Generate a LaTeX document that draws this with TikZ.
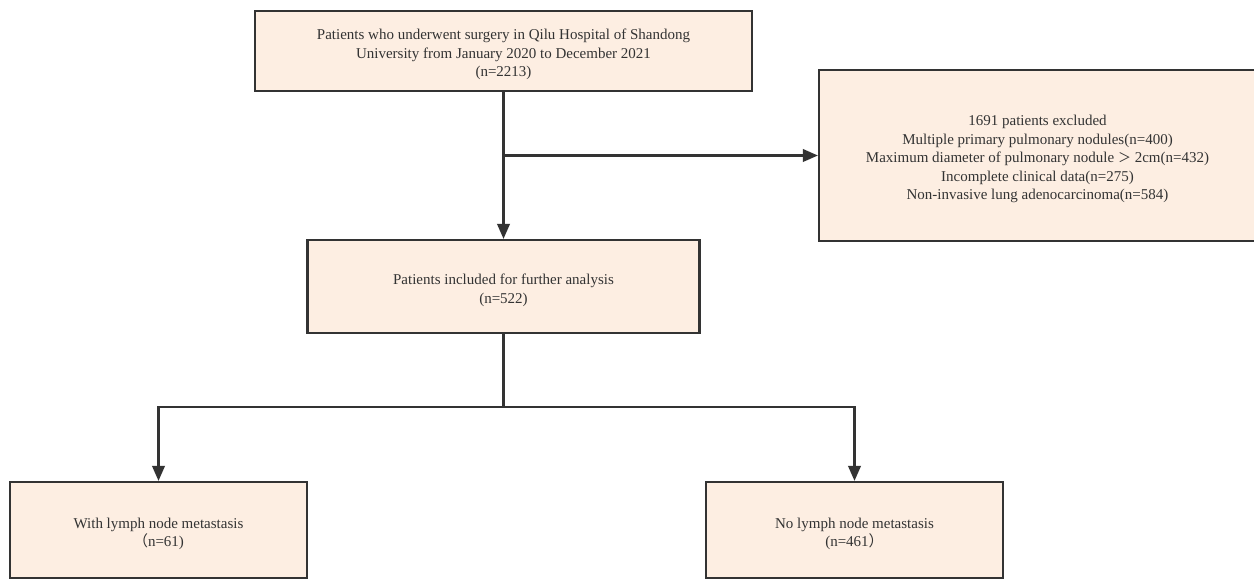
\documentclass[tikz,border=0pt]{standalone}
\usepackage{fontspec}
\setmainfont{Liberation Serif}
\newfontfamily\cjk{Noto Sans CJK SC}
\usetikzlibrary{arrows.meta}
\definecolor{boxfill}{HTML}{FDEEE2}
\definecolor{linecol}{HTML}{333333}
\definecolor{txtcol}{HTML}{333333}
\begin{document}
\begin{tikzpicture}[x=1pt,y=-1pt,
  flowbox/.style={draw=linecol, fill=boxfill, line width=2.2pt, inner sep=0pt,
    text=txtcol, align=center, font=\fontsize{15}{18.5}\selectfont},
  conn/.style={draw=linecol, line width=2.2pt},
  arr/.style={conn, -{Triangle[length=15pt,width=12.5pt]}}]
\useasboundingbox (0,0) rectangle (1254,580);
\fill[white] (0,0) rectangle (1254,580);
\node[flowbox, minimum width=497pt, minimum height=80pt] (top) at (503.5,51)
  {\rule{0pt}{18pt}Patients who underwent surgery in Qilu Hospital of Shandong\\University from January 2020 to December 2021\\(n=2213)};
\node[flowbox, minimum width=437pt, minimum height=171pt] (excl) at (1037.5,155.5)
  {\rule{0pt}{18pt}1691 patients excluded\\Multiple primary pulmonary nodules(n=400)\\Maximum diameter of pulmonary nodule {\cjk\fontsize{13}{18.5}\selectfont ＞} 2cm(n=432)\\Incomplete clinical data(n=275)\\Non-invasive lung adenocarcinoma(n=584)};
\node[flowbox, minimum width=392pt, minimum height=93pt] (mid) at (503.5,286.5)
  {\rule{0pt}{18pt}Patients included for further analysis\\(n=522)};
\node[flowbox, minimum width=297pt, minimum height=96pt] (lft) at (158.5,530)
  {\rule{0pt}{18pt}With lymph node metastasis\\{\cjk （}n=61)};
\node[flowbox, minimum width=297pt, minimum height=96pt] (rgt) at (854.5,530)
  {\rule{0pt}{18pt}No lymph node metastasis\\(n=461{\cjk ）}};
\coordinate (split) at (503.5,407);
\draw[arr] (top.south) -- (mid.north);
\draw[arr] (top.south |- excl.west) -- (excl.west);
\draw[conn] (mid.south) -- (split);
\draw[arr] (split) -| (lft.north);
\draw[arr] (split) -| (rgt.north);
\end{tikzpicture}
\end{document}
